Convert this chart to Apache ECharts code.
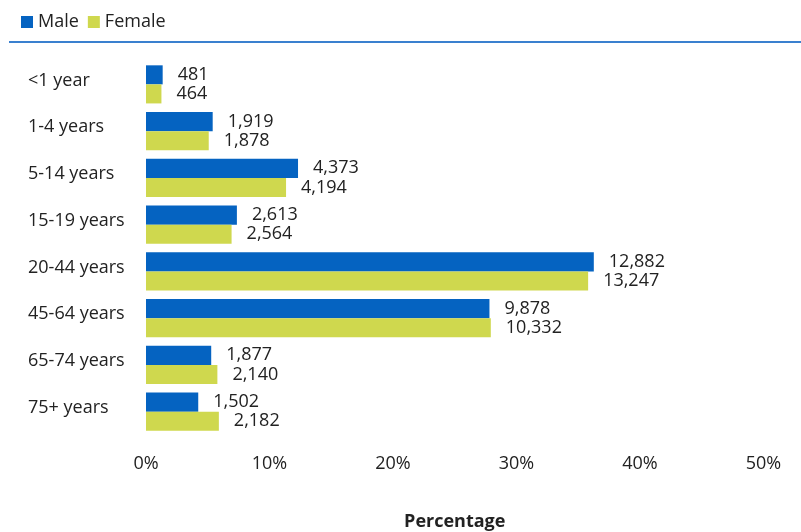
<!DOCTYPE html>
<html><head><meta charset="utf-8">
<script src="https://cdn.jsdelivr.net/npm/echarts@6/dist/echarts.min.js"></script>
<style>html,body{margin:0;padding:0;background:#fff}#c{width:801px;height:532px}</style>
</head><body><div id="c"></div>
<script>
const categories = ['<1 year','1-4 years','5-14 years','15-19 years','20-44 years','45-64 years','65-74 years','75+ years'];
const maleCounts = [481,1919,4373,2613,12882,9878,1877,1502];
const femaleCounts = [464,1878,4194,2564,13247,10332,2140,2182];
// Percent of each sex's total
const malePct = [1.35,5.40,12.31,7.36,36.26,27.81,5.28,4.23];
const femalePct = [1.25,5.08,11.34,6.93,35.80,27.92,5.78,5.90];
const xTicks = [0,10,20,30,40,50];

const fmt = n => n.toLocaleString('en-US');
const font = '"Open Sans", sans-serif';
const fs = 18;
const chart = echarts.init(document.getElementById('c'));
chart.setOption({
  animation:false,
  textStyle:{fontFamily:font},
  legend:{left:16,top:8,itemWidth:12,itemHeight:12,itemGap:9,icon:'rect',
    textStyle:{fontSize:fs,color:'#222',fontFamily:font},data:['Male','Female']},
  graphic:[{type:'line',shape:{x1:9,y1:42,x2:801,y2:42},style:{stroke:'#3a80cf',lineWidth:2}}],
  grid:{left:146,right:37.5,top:61,bottom:97,containLabel:false,outerBoundsMode:'none'},
  xAxis:{type:'value',min:xTicks[0],max:xTicks[xTicks.length-1],interval:10,
    axisLabel:{formatter:v=>v+'%',fontSize:fs,color:'#222',margin:20,fontFamily:font},
    splitLine:{show:false},axisLine:{show:false},axisTick:{show:false},
    name:'Percentage',nameLocation:'middle',nameGap:78,
    nameTextStyle:{fontSize:fs,fontWeight:'bold',color:'#222',fontFamily:font}},
  yAxis:{type:'category',data:categories,inverse:true,
    axisLabel:{align:'left',margin:118,fontSize:fs,color:'#222',fontFamily:font,
      formatter:v=>'{a|'+v+'}',
      rich:{a:{fontSize:fs,color:'#222',fontFamily:font,padding:[0,0,8,0]}}},
    axisLine:{show:false},axisTick:{show:false},splitLine:{show:false}},
  series:[
    {name:'Male',type:'bar',data:malePct,barGap:'0%',barCategoryGap:'18.5%',
     itemStyle:{color:'#0563c1'},
     label:{show:true,position:'right',distance:15,fontSize:fs,color:'#222',fontFamily:font,
       formatter:p=>fmt(maleCounts[p.dataIndex])}},
    {name:'Female',type:'bar',data:femalePct,
     itemStyle:{color:'#cfd84e'},
     label:{show:true,position:'right',distance:15,fontSize:fs,color:'#222',fontFamily:font,
       formatter:p=>fmt(femaleCounts[p.dataIndex])}}
  ]
});
</script></body></html>
